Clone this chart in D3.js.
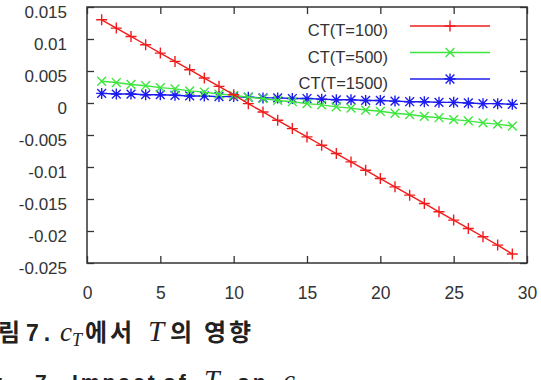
<!DOCTYPE html>
<html>
<head>
<meta charset="utf-8">
<script src="https://cdn.jsdelivr.net/npm/d3@7"></script>
<style>
  body { margin: 0; background: #fff; }
  svg { display: block; }
  .tick text { font-family: "Liberation Sans", Arial, sans-serif; fill: #333; }
</style>
</head>
<body>
<script>
// data
const xValues = [1, 2, 3, 4, 5, 6, 7, 8, 9, 10, 11, 12, 13, 14, 15, 16, 17, 18, 19, 20,
                 21, 22, 23, 24, 25, 26, 27, 28, 29];
const ctT100 = [0.0130, 0.0117, 0.0104, 0.0091, 0.0078, 0.0065, 0.0052, 0.0039, 0.0026, 0.0013,
                -0.0001, -0.0014, -0.0027, -0.0040, -0.0053, -0.0066, -0.0079, -0.0092, -0.0105, -0.0118,
                -0.0131, -0.0144, -0.0157, -0.0170, -0.0183, -0.0196, -0.0209, -0.0222, -0.0236];
const ctT500 = [0.0034, 0.0032, 0.0029, 0.0027, 0.0024, 0.0022, 0.0019, 0.0017, 0.0014, 0.0012,
                0.0009, 0.0007, 0.0004, 0.0002, -0.0001, -0.0003, -0.0006, -0.0008, -0.0011, -0.0013,
                -0.0016, -0.0018, -0.0021, -0.0023, -0.0026, -0.0028, -0.0031, -0.0033, -0.0036];
const ctT1500 = [0.0015, 0.0014, 0.0014, 0.0013, 0.0013, 0.0012, 0.0011, 0.0011, 0.0010, 0.0010,
                 0.0009, 0.0008, 0.0008, 0.0007, 0.0007, 0.0006, 0.0005, 0.0005, 0.0004, 0.0004,
                 0.0003, 0.0002, 0.0002, 0.0001, 0.0001, 0.0000, -0.0001, -0.0001, -0.0002];
const seriesNames = ['CT(T=100)', 'CT(T=500)', 'CT(T=1500)'];
const xTicks = [0, 5, 10, 15, 20, 25, 30];
const yTicks = [0.015, 0.01, 0.005, 0, -0.005, -0.01, -0.015, -0.02, -0.025];

const width = 541, height = 380;
const margin = { top: 7, left: 87, right: 14, bottom: 117 };
const colors = ['#f01c1c', '#3de63d', '#1c1cf0'];
const markers = ['plus', 'cross', 'star'];

const svg = d3.select('body').append('svg')
    .attr('width', width)
    .attr('height', height);

const x = d3.scaleLinear().domain([0, 30]).range([margin.left, width - margin.right]);
const y = d3.scaleLinear().domain([-0.025, 0.015]).range([height - margin.bottom, margin.top]);
const fmt = (d) => String(+d.toFixed(3));

// axes, ticks pointing inward
svg.append('g')
    .attr('transform', `translate(0,${y.range()[0]})`)
    .call(d3.axisBottom(x).tickValues(xTicks).tickSize(-7).tickPadding(24).tickFormat(d3.format('d')))
    .call(g => g.selectAll('text').attr('font-size', 17.5));
svg.append('g')
    .attr('transform', `translate(0,${y.range()[1]})`)
    .call(d3.axisTop(x).tickValues(xTicks).tickSize(-7).tickFormat(''));
svg.append('g')
    .attr('transform', `translate(${x.range()[0]},0)`)
    .call(d3.axisLeft(y).tickValues(yTicks).tickSize(-7).tickPadding(20).tickFormat(fmt))
    .call(g => g.selectAll('text').attr('font-size', 17).attr('y', 5));
svg.append('g')
    .attr('transform', `translate(${x.range()[1]},0)`)
    .call(d3.axisRight(y).tickValues(yTicks).tickSize(-7).tickFormat(''));

svg.selectAll('.domain').remove();
svg.selectAll('.tick line').attr('stroke', '#333').attr('stroke-width', 1.3);

svg.append('rect')
    .attr('x', x.range()[0])
    .attr('y', y.range()[1])
    .attr('width', x.range()[1] - x.range()[0])
    .attr('height', y.range()[0] - y.range()[1])
    .attr('fill', 'none')
    .attr('stroke', '#333')
    .attr('stroke-width', 1.5);

function markerPath(type, r) {
    const plus = `M${-r},0H${r}M0,${-r}V${r}`;
    const cross = `M${-r * 0.8},${-r * 0.8}L${r * 0.8},${r * 0.8}M${-r * 0.8},${r * 0.8}L${r * 0.8},${-r * 0.8}`;
    if (type === 'plus') return plus;
    if (type === 'cross') return cross;
    return plus + cross;
}

const allSeries = [ctT100, ctT500, ctT1500];
const line = d3.line().x((d, i) => x(xValues[i])).y(d => y(d));

// draw from back to front: blue, green, red
[2, 1, 0].forEach((s) => {
    const g = svg.append('g');
    g.append('path')
        .datum(allSeries[s])
        .attr('d', line)
        .attr('fill', 'none')
        .attr('stroke', colors[s])
        .attr('stroke-width', 1.4);
    g.selectAll('path.pt')
        .data(allSeries[s])
        .enter()
        .append('path')
        .attr('class', 'pt')
        .attr('d', markerPath(markers[s], 5.5))
        .attr('transform', (d, i) => `translate(${x(xValues[i])},${y(d)})`)
        .attr('stroke', colors[s])
        .attr('stroke-width', 1.4);
});

// legend
const legend = svg.append('g');
seriesNames.forEach((name, i) => {
    const ly = 26 + i * 26.5;
    legend.append('text')
        .attr('x', 388)
        .attr('y', ly + 10)
        .attr('text-anchor', 'end')
        .attr('font-family', '"Liberation Sans", Arial, sans-serif')
        .attr('font-size', 16.5)
        .attr('fill', '#333')
        .text(name);
    legend.append('line')
        .attr('x1', 410).attr('x2', 490)
        .attr('y1', ly).attr('y2', ly)
        .attr('stroke', colors[i])
        .attr('stroke-width', 1.4);
    legend.append('path')
        .attr('d', markerPath(markers[i], 5.5))
        .attr('transform', `translate(450,${ly})`)
        .attr('stroke', colors[i])
        .attr('stroke-width', 1.4);
});

// caption (cropped at the left and bottom, like the source)
const kr = '"Noto Sans CJK KR", "Noto Sans", sans-serif';
const latin = '"Liberation Sans", Arial, sans-serif';
const serif = '"Liberation Serif", "DejaVu Serif", serif';

function capText(txt, px, py, opts) {
    const t = svg.append('text')
        .attr('x', px).attr('y', py)
        .attr('font-family', opts.family)
        .attr('font-size', opts.size)
        .attr('fill', '#222')
        .text(txt);
    if (opts.italic) t.attr('font-style', 'italic');
    if (opts.bold) t.attr('font-weight', 'bold');
    if (opts.anchor) t.attr('text-anchor', opts.anchor);
    if (opts.spacing) t.attr('letter-spacing', opts.spacing);
    return t;
}

const b1 = 341;
capText('그림', 20, b1, { family: kr, size: 24, bold: true, anchor: 'end' });
capText('7.', 26, b1, { family: latin, size: 23, bold: true, spacing: 5 });
capText('c', 60, b1, { family: serif, size: 27, italic: true });
capText('T', 72, b1 + 5, { family: serif, size: 18, italic: true });
capText('에서', 85, b1, { family: kr, size: 24, bold: true, spacing: 3 });
capText('T', 148, b1, { family: serif, size: 29, italic: true });
capText('의', 170, b1, { family: kr, size: 24, bold: true });
capText('영향', 204, b1, { family: kr, size: 24, bold: true, spacing: 3 });

const b2 = 389;
capText('Fig.', 15, b2, { family: latin, size: 21, bold: true, anchor: 'end', spacing: 3 });
capText('7.', 35, b2, { family: latin, size: 21, bold: true, spacing: 3 });
capText('Impact', 72, b2, { family: latin, size: 21, bold: true, spacing: 3 });
capText('of', 163, b2, { family: latin, size: 21, bold: true, spacing: 3 });
capText('T', 204, b2, { family: serif, size: 28, italic: true });
capText('on', 237, b2, { family: latin, size: 21, bold: true, spacing: 3 });
capText('c', 283, b2, { family: serif, size: 27, italic: true });
</script>
</body>
</html>
